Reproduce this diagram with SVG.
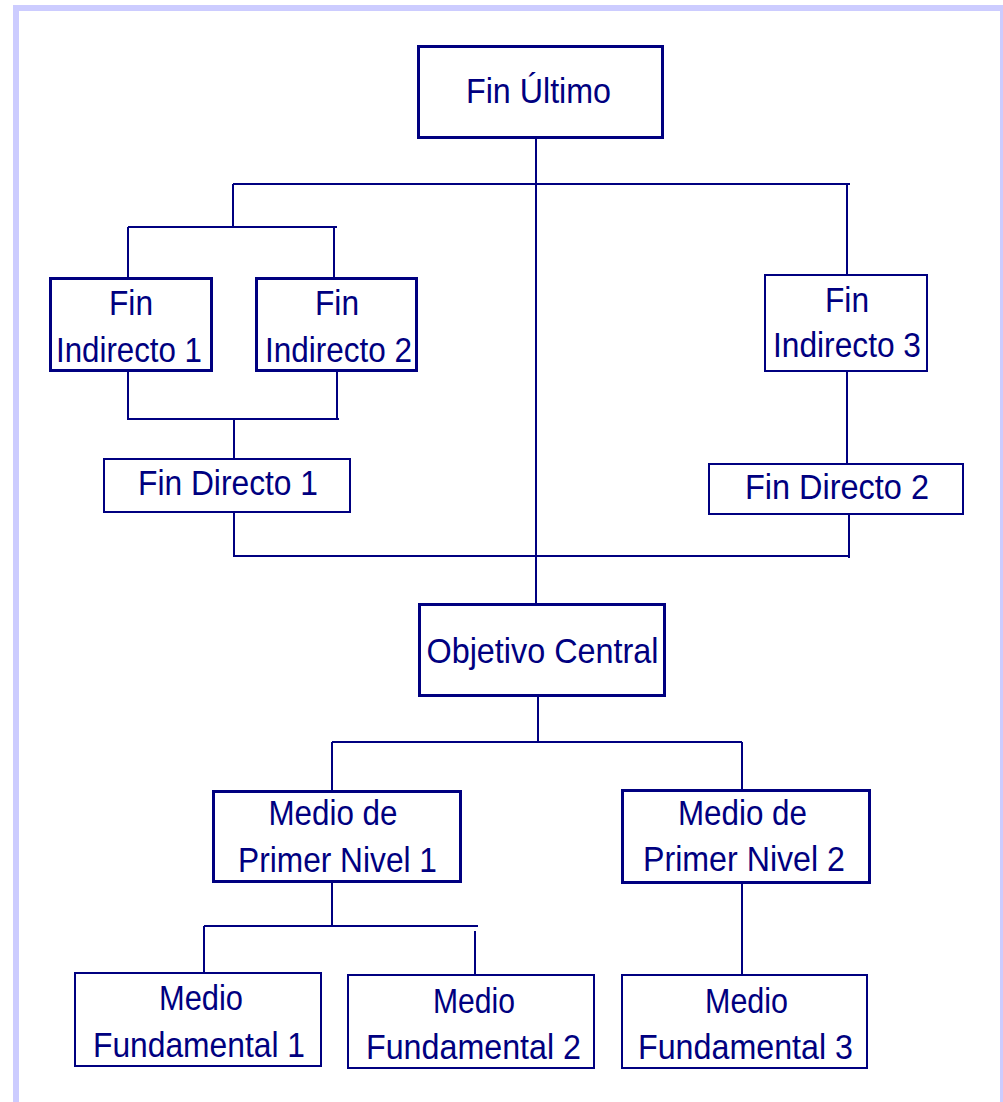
<svg xmlns="http://www.w3.org/2000/svg" width="1003" height="1102" viewBox="0 0 1003 1102">
<style>
.bg{fill:#ffffff}
.frame{fill:none;stroke:#ccccff;stroke-width:6}
.box{fill:#ffffff;stroke:#000080}
.thick{stroke-width:3}
.thin{stroke-width:2}
.conn{fill:none;stroke:#000080;stroke-width:2}
text{font-family:"Liberation Sans",Arial,sans-serif;font-size:35px;fill:#000080;text-anchor:middle}
</style>
<rect class="bg" x="0" y="0" width="1003" height="1102"/>
<rect class="frame" x="16" y="8" width="987" height="1200"/>
<g id="connectors">
<path class="conn" d="M536 139V603"/>
<path class="conn" d="M233 184H850M233 184V227M128 227H337M128 227V277M334 227V277"/>
<path class="conn" d="M847 184V274"/>
<path class="conn" d="M128 372V419H339M337 372V419M234 419V458"/>
<path class="conn" d="M234 512V556H850M849 514V558"/>
<path class="conn" d="M847 372V464"/>
<path class="conn" d="M538 697V742M332 742H742M332 742V790M742 742V789"/>
<path class="conn" d="M332 883V926M204 926H478M204 926V972M475 931V974"/>
<path class="conn" d="M742 884V975"/>
</g>
<g id="fin-ultimo">
<rect class="box thick" x="418.5" y="46.5" width="244" height="91"/>
<text x="538.5" y="103" textLength="145" lengthAdjust="spacingAndGlyphs">Fin Último</text>
</g>
<g id="fin-indirecto-1">
<rect class="box thick" x="50.5" y="278.5" width="161" height="92"/>
<text x="131" y="315" textLength="44" lengthAdjust="spacingAndGlyphs">Fin</text>
<text x="129" y="362" textLength="146" lengthAdjust="spacingAndGlyphs">Indirecto 1</text>
</g>
<g id="fin-indirecto-2">
<rect class="box thick" x="256.5" y="278.5" width="160" height="92"/>
<text x="337" y="315" textLength="44" lengthAdjust="spacingAndGlyphs">Fin</text>
<text x="338.5" y="362" textLength="147" lengthAdjust="spacingAndGlyphs">Indirecto 2</text>
</g>
<g id="fin-indirecto-3">
<rect class="box thin" x="765" y="275" width="162" height="96"/>
<text x="847" y="312" textLength="44" lengthAdjust="spacingAndGlyphs">Fin</text>
<text x="847" y="357" textLength="148" lengthAdjust="spacingAndGlyphs">Indirecto 3</text>
</g>
<g id="fin-directo-1">
<rect class="box thin" x="104" y="459" width="246" height="53"/>
<text x="228" y="495" textLength="180" lengthAdjust="spacingAndGlyphs">Fin Directo 1</text>
</g>
<g id="fin-directo-2">
<rect class="box thin" x="709" y="464" width="254" height="50"/>
<text x="837" y="499" textLength="184" lengthAdjust="spacingAndGlyphs">Fin Directo 2</text>
</g>
<g id="objetivo-central">
<rect class="box thick" x="419.5" y="604.5" width="245" height="91"/>
<text x="542.5" y="663" textLength="232" lengthAdjust="spacingAndGlyphs">Objetivo Central</text>
</g>
<g id="medio-primer-nivel-1">
<rect class="box thick" x="213.5" y="791.5" width="247" height="90"/>
<text x="333" y="825" textLength="129" lengthAdjust="spacingAndGlyphs">Medio de</text>
<text x="337.5" y="872" textLength="199" lengthAdjust="spacingAndGlyphs">Primer Nivel 1</text>
</g>
<g id="medio-primer-nivel-2">
<rect class="box thick" x="622.5" y="790.5" width="247" height="92"/>
<text x="742.5" y="825" textLength="129" lengthAdjust="spacingAndGlyphs">Medio de</text>
<text x="744" y="871" textLength="202" lengthAdjust="spacingAndGlyphs">Primer Nivel 2</text>
</g>
<g id="medio-fundamental-1">
<rect class="box thin" x="75" y="973" width="246" height="93"/>
<text x="201" y="1010" textLength="84" lengthAdjust="spacingAndGlyphs">Medio</text>
<text x="199" y="1057" textLength="212" lengthAdjust="spacingAndGlyphs">Fundamental 1</text>
</g>
<g id="medio-fundamental-2">
<rect class="box thin" x="348" y="975" width="246" height="93"/>
<text x="474" y="1013" textLength="82" lengthAdjust="spacingAndGlyphs">Medio</text>
<text x="473.5" y="1059" textLength="215" lengthAdjust="spacingAndGlyphs">Fundamental 2</text>
</g>
<g id="medio-fundamental-3">
<rect class="box thin" x="622" y="975" width="245" height="93"/>
<text x="746.5" y="1013" textLength="83" lengthAdjust="spacingAndGlyphs">Medio</text>
<text x="745.5" y="1059" textLength="215" lengthAdjust="spacingAndGlyphs">Fundamental 3</text>
</g>
</svg>
